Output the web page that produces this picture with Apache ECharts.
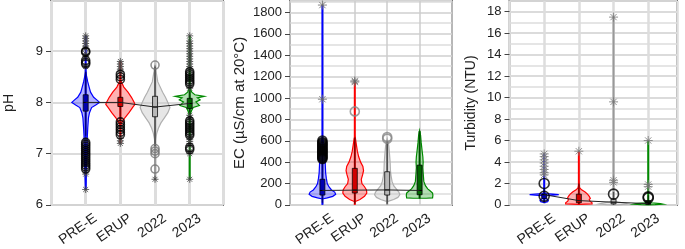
<!DOCTYPE html>
<html><head><meta charset="utf-8">
<script src="https://cdn.jsdelivr.net/npm/echarts@6/dist/echarts.min.js"></script>
<style>html,body{margin:0;padding:0;background:#fff}#c{width:685px;height:249px}</style>
</head><body><div id="c"></div>
<script>
const categories = ['PRE-E', 'ERUP', '2022', '2023'];

// ---------- pH ----------  violin profiles: [value, half-width in category units]
const phViolinPreE = [[8.6,0],[8.5,0.03],[8.4,0.06],[8.3,0.1],[8.2,0.14],[8.1,0.23],[8.05,0.32],[8.0,0.4],[7.95,0.29],[7.9,0.17],[7.8,0.11],[7.7,0.08],[7.5,0.06],[7.3,0.045],[7.0,0.045],[6.8,0.03],[6.5,0.01],[6.35,0]];
const phViolinErup = [[8.45,0],[8.4,0.03],[8.3,0.1],[8.2,0.22],[8.1,0.32],[8.0,0.4],[7.96,0.42],[7.9,0.35],[7.8,0.25],[7.7,0.13],[7.6,0.04],[7.55,0]];
const phViolin2022 = [[8.75,0],[8.6,0.03],[8.4,0.08],[8.2,0.22],[8.1,0.3],[8.0,0.37],[7.9,0.43],[7.8,0.37],[7.7,0.27],[7.6,0.17],[7.5,0.1],[7.4,0.05],[7.3,0.02],[7.2,0]];
const phViolin2023 = [[8.3,0],[8.2,0.06],[8.15,0.15],[8.12,0.42],[8.09,0.22],[8.05,0.3],[8.01,0.18],[7.98,0.22],[7.94,0.28],[7.9,0.1],[7.85,0.06],[7.8,0.03],[7.7,0]];
// box stats: [q1, median, q3, whiskerLow, whiskerHigh]
const phBoxes = [[7.83,8.0,8.15,7.35,8.6],[7.92,8.0,8.1,7.65,8.35],[7.72,7.91,8.12,7.15,8.7],[7.88,7.98,8.08,7.7,8.25]];
// full range [min, max]
const phRanges = [[6.3,9.3],[7.2,8.8],[6.5,8.73],[6.5,9.3]];
const phCircles = [
  [9.0,8.98,8.82,8.78,8.75,7.22,7.18,7.14,7.1,7.06,7.02,6.98,6.94,6.9,6.86,6.82,6.78,6.74,6.7],
  [8.55,8.5,8.45,7.62,7.57,7.52,7.47,7.42,7.37],
  [8.73,7.1,7.05,7.0,6.7],
  [8.6,8.56,8.52,8.48,8.44,8.4,8.36,7.64,7.6,7.56,7.52,7.48,7.44,7.4,7.36,7.12,7.08]
];
const phStars = [
  [9.3,9.25,9.2,9.15,9.1,9.05,8.95,8.9,8.7,7.26,6.66,6.6,6.3],
  [8.8,8.75,8.7,8.65,8.6,7.3,7.25,7.2],
  [6.5],
  [9.3,9.2,9.15,9.1,9.05,9.0,8.95,8.9,8.85,8.8,8.75,8.7,8.65,8.32,8.28,7.75,7.7,7.32,7.28,7.24,7.2,7.16,7.04,7.0,6.5]
];

// ---------- EC ----------
const ecViolinPreE = [[55,0],[65,0.15],[80,0.32],[100,0.41],[120,0.38],[140,0.28],[170,0.2],[200,0.15],[250,0.12],[300,0.1],[370,0.09],[450,0.08],[550,0.06],[600,0.03],[620,0]];
const ecViolinErup = [[30,0],[50,0.16],[80,0.3],[110,0.37],[140,0.36],[170,0.3],[200,0.22],[240,0.2],[280,0.24],[320,0.27],[360,0.25],[400,0.18],[450,0.12],[500,0.08],[560,0.05],[620,0.02],[640,0]];
const ecViolin2022 = [[30,0],[50,0.2],[70,0.33],[95,0.39],[120,0.36],[150,0.28],[180,0.2],[220,0.15],[270,0.12],[320,0.1],[400,0.09],[480,0.07],[550,0.05],[600,0.02],[620,0]];
const ecViolin2023 = [[62,0.2],[66,0.4],[90,0.41],[110,0.4],[130,0.33],[150,0.25],[180,0.18],[220,0.13],[260,0.12],[300,0.11],[350,0.1],[400,0.11],[450,0.1],[500,0.08],[580,0.05],[650,0.03],[695,0]];
const ecBoxes = [[92,135,240,20,600],[111,138,342,10,630],[92,140,310,10,600],[95,135,372,60,690]];
const ecRanges = [[0,1870],[0,1160],[0,600],[60,690]];
const ecCircles = [
  [603,588,578,568,558,548,538,528,518,508,498,488,478,468,458,448,438,430],
  [875],
  [635,620],
  []
];
const ecStars = [[1870,989],[1160,1150],[],[]];

// ---------- Turbidity ----------
const tuViolinPreE = [[1.2,0],[1.05,0.05],[1.0,0.25],[0.95,0.42],[0.9,0.25],[0.85,0.05],[0.7,0.04],[0.6,0.05],[0.5,0.1],[0.4,0.12],[0.3,0.1],[0.2,0]];
const tuViolinErup = [[2.0,0],[1.6,0.02],[1.4,0.08],[1.2,0.18],[1.0,0.25],[0.8,0.3],[0.6,0.33],[0.5,0.3],[0.35,0.32],[0.2,0.38],[0.1,0.38],[0.04,0]];
const tuViolin2022 = [[0.5,0],[0.35,0.05],[0.25,0.15],[0.15,0.35],[0.08,0.43],[0.02,0.2],[0,0]];
const tuViolin2023 = [[0.3,0],[0.2,0.1],[0.12,0.35],[0.06,0.43],[0.02,0.2],[0,0]];
const tuBoxes = [[0.6,0.95,1.0,0.2,1.5],[0.2,0.4,1.0,0.05,2.0],[0.1,0.25,0.55,0,1.2],[0.05,0.12,0.4,0,0.9]];
const tuRanges = [[0.2,4.8],[0.05,5.0],[0,17.5],[0,6.0]];
const tuCircles = [[2.0,0.8],[],[1.0],[0.75,0.65]];
const tuStars = [[4.75,4.5,4.2,3.9,3.6,3.3,3.0,2.8],[5.0],[17.5,9.6,2.3,2.1],[6.0,1.9,1.7]];

// ---------- styles ----------
const pal = [
  {line:'#0000ff', range:'#0000ff', fill:'rgba(0,0,255,0.3)', box:'#0000b0'},
  {line:'#ff0000', range:'#ff0000', fill:'rgba(255,0,0,0.3)', box:'#d00000'},
  {line:'#b0b0b0', range:'#999999', fill:'rgba(200,200,200,0.45)', box:'#b8b8b8'},
  {line:'#008a00', range:'#008a00', fill:'rgba(0,150,0,0.3)', box:'#006600'}
];
const STAR = 'path://M5,0L5,10M0,5L10,5M1.5,1.5L8.5,8.5M1.5,8.5L8.5,1.5';
const FONT = 'Liberation Sans';

function makeRender(violins, boxes, ranges) {
  return function (params, api) {
    const g = params.dataIndex, x = g + 1, p = pal[g];
    const prof = violins[g];
    const right = prof.map(d => api.coord([x + d[1], d[0]]));
    const left = prof.slice().reverse().map(d => api.coord([x - d[1], d[0]]));
    const b = boxes[g], r = ranges[g];
    const a0 = api.coord([x, r[0]]), a1 = api.coord([x, r[1]]);
    const w0 = api.coord([x, b[3]]), w1 = api.coord([x, b[4]]);
    const qt = api.coord([x, b[2]]), qb = api.coord([x, b[0]]), m = api.coord([x, b[1]]);
    const bw = 2.5;
    return {type: 'group', children: [
      {type:'polygon', shape:{points: right.concat(left)}, style:{fill:p.fill, stroke:p.line, lineWidth:1.2}},
      {type:'line', shape:{x1:a0[0], y1:a0[1], x2:a1[0], y2:a1[1]}, style:{stroke:p.range, lineWidth:2}},
      {type:'line', shape:{x1:w0[0], y1:w0[1], x2:w1[0], y2:w1[1]}, style:{stroke:'rgba(0,0,0,0.5)', lineWidth:1.5}},
      {type:'rect', shape:{x:qt[0]-bw, y:qt[1], width:2*bw, height:Math.max(1, qb[1]-qt[1])}, style:{fill:p.box, stroke:'rgba(0,0,0,0.75)', lineWidth:1}},
      {type:'line', shape:{x1:m[0]-bw, y1:m[1], x2:m[0]+bw, y2:m[1]}, style:{stroke:'#000', lineWidth:1}}
    ]};
  };
}

function panelSeries(idx, violins, boxes, ranges, circles, stars, circleColors, circleSize, starSize, starColor) {
  const circleData = [];
  circles.forEach((arr, g) => arr.forEach(v => circleData.push({value:[g+1, v], itemStyle:{borderColor: circleColors[g]}})));
  const starData = [];
  stars.forEach((arr, g) => arr.forEach(v => starData.push([g+1, v])));
  return [
    {type:'custom', xAxisIndex:idx, yAxisIndex:idx*2, z:2, renderItem: makeRender(violins, boxes, ranges),
     data: categories.map((c, i) => [i+1, boxes[i][1]]), silent:true, animation:false},
    {type:'line', xAxisIndex:idx, yAxisIndex:idx*2, z:3, data: categories.map((c, i) => [i+1, boxes[i][1]]),
     symbol:'none', lineStyle:{color:'#222', width:1}, silent:true, animation:false},
    {type:'scatter', xAxisIndex:idx, yAxisIndex:idx*2, z:4, data: starData, symbol: STAR, symbolSize: starSize,
     itemStyle:{color:'rgba(0,0,0,0)', borderColor:starColor, borderWidth:1}, silent:true, animation:false},
    {type:'scatter', xAxisIndex:idx, yAxisIndex:idx*2, z:5, data: circleData, symbol:'circle', symbolSize: circleSize,
     itemStyle:{color:'rgba(0,0,0,0)', borderWidth:1.6}, silent:true, animation:false}
  ];
}

const grids = [
  {left:51, top:1, width:172, height:207},
  {left:290, top:1, width:162, height:206},
  {left:509.5, top:1, width:167.5, height:206}
].map(g => Object.assign(g, {show:true, borderColor:'#777', borderWidth:2, containLabel:false}));

const xMax = [4.96, 5.0, 4.83];
const xSplit = [{color:'#ddd', width:3}, {color:'#ccc', width:1.5}, {color:'#ddd', width:2.5}];
const xAxes = [0,1,2].map(i => ({
  type:'value', gridIndex:i, min:0, max:xMax[i], interval:1,
  axisLine:{show:false}, axisTick:{show:false},
  splitLine:{show:true, lineStyle:xSplit[i]},
  axisLabel:{rotate:35, margin:19, fontSize:14, color:'#222', fontFamily:FONT, padding:[0,-12,0,0],
    formatter: v => { const k = Math.round(v); return (Math.abs(v-k) < 1e-6 && k >= 1 && k <= 4) ? categories[k-1] : ''; }}
}));

function yMain(grid, min, max, interval, name, nameGap, nameSize) {
  return {type:'value', gridIndex:grid, min, max, interval, name, nameLocation:'middle', nameGap,
    nameTextStyle:{fontSize:nameSize, color:'#222', fontFamily:FONT},
    axisLine:{show:false}, axisTick:{show:true, length:5, lineStyle:{color:'#444'}},
    axisLabel:{fontSize:13, color:'#222', fontFamily:FONT, margin:8, showMaxLabel:false, formatter: v => String(v)},
    splitLine:{show:true, lineStyle:{color:'#ccc', width:1.5}}};
}
function yMinor(grid, min, max, interval) {
  return {type:'value', gridIndex:grid, min, max, interval, show:true,
    axisLine:{show:false}, axisTick:{show:false}, axisLabel:{show:false},
    splitLine:{show:true, lineStyle:{color:'#ddd', width:1.5}}};
}
const yAxes = [
  yMain(0, 6, 9.98, 1, 'pH', 35, 14), yMinor(0, 6, 9.98, 1),
  yMain(1, 0, 1908, 200, 'EC (µS/cm at 20°C)', 43, 15), yMinor(1, 0, 1908, 100),
  yMain(2, 0, 19, 2, 'Turbidity (NTU)', 31, 14), yMinor(2, 0, 19, 1)
];

const series = [].concat(
  panelSeries(0, [phViolinPreE, phViolinErup, phViolin2022, phViolin2023], phBoxes, phRanges, phCircles, phStars, ['#000','#000','#777','#000'], 8, 7, '#444'),
  panelSeries(1, [ecViolinPreE, ecViolinErup, ecViolin2022, ecViolin2023], ecBoxes, ecRanges, ecCircles, ecStars, ['#000','#888','#888','#000'], 9, 9, '#666'),
  panelSeries(2, [tuViolinPreE, tuViolinErup, tuViolin2022, tuViolin2023], tuBoxes, tuRanges, tuCircles, tuStars, ['#000','#000','#000','#000'], 10, 9, '#777')
);

const chart = echarts.init(document.getElementById('c'), null, {renderer:'canvas'});
chart.setOption({animation:false, grid:grids, xAxis:xAxes, yAxis:yAxes, series});
</script></body></html>
